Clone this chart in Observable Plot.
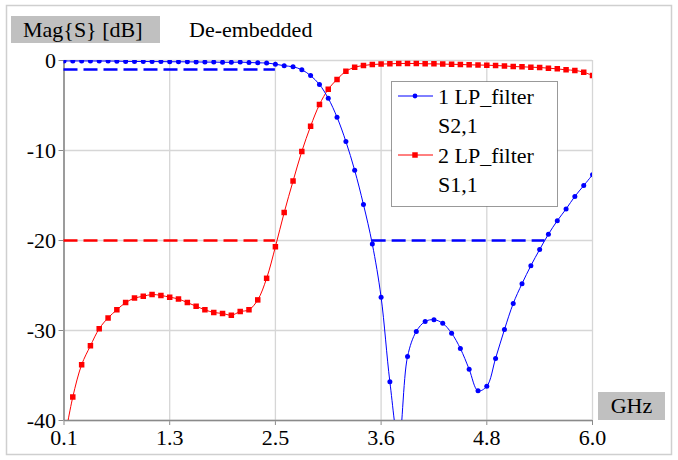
<!DOCTYPE html>
<html>
<head>
<meta charset="utf-8">
<script src="https://cdn.jsdelivr.net/npm/d3@7"></script>
<script src="https://cdn.jsdelivr.net/npm/@observablehq/plot@0.6"></script>
<style>
  html, body { margin: 0; padding: 0; background: white; }
  #wrap { position: relative; width: 678px; height: 460px; overflow: hidden; font-family: "Liberation Serif", "Times New Roman", Times, "DejaVu Serif", serif; }
  #wrap > svg { position: absolute; left: 0; top: 0; }
  #chart svg [aria-label^="x-axis"] line, #chart svg [aria-label^="x-axis"] path,
  #chart svg [aria-label^="y-axis"] line, #chart svg [aria-label^="y-axis"] path { stroke: #8a8a8a; }
  #overlay { pointer-events: none; }
  #wrap svg, #wrap svg text { font-family: "Liberation Serif", "Times New Roman", Times, "DejaVu Serif", serif !important; }
</style>
</head>
<body>
<div id="wrap"><div id="chart"></div></div>
<script>
// ---- data ----
const freqGHz = [0.1, 0.198, 0.297, 0.395, 0.493, 0.592, 0.69, 0.788, 0.887, 0.985,
  1.083, 1.182, 1.28, 1.378, 1.477, 1.575, 1.673, 1.772, 1.87, 1.968,
  2.067, 2.165, 2.263, 2.362, 2.46, 2.558, 2.657, 2.755, 2.853, 2.952,
  3.05, 3.148, 3.247, 3.345, 3.443, 3.542, 3.64, 3.738, 3.837, 3.935,
  4.033, 4.132, 4.23, 4.328, 4.427, 4.525, 4.623, 4.722, 4.82, 4.918,
  5.017, 5.115, 5.213, 5.312, 5.41, 5.508, 5.607, 5.705, 5.803, 5.902, 6.0];

const s21dB = [-0.05, -0.05, -0.05, -0.05, -0.06, -0.06, -0.07, -0.1, -0.11, -0.11,
  -0.12, -0.12, -0.14, -0.14, -0.15, -0.16, -0.18, -0.18, -0.2, -0.2,
  -0.18, -0.22, -0.26, -0.28, -0.41, -0.58, -0.7, -1.03, -1.68, -2.67,
  -4.2, -6.3, -9.0, -12.2, -16.0, -20.4, -26.3, -35.7, -42.5, -32.9,
  -30.1, -29.0, -28.8, -29.2, -30.3, -32.0, -34.3, -36.7, -36.2, -33.1,
  -29.9, -27.0, -24.8, -22.8, -21.0, -19.3, -17.8, -16.5, -15.1, -13.9, -12.7];

const s11dB = [-42.5, -37.4, -33.8, -31.7, -29.8, -28.6, -27.7, -26.9, -26.4, -26.2,
  -26.0, -26.1, -26.3, -26.5, -26.9, -27.3, -27.7, -28.0, -28.1, -28.3,
  -27.9, -27.7, -26.6, -24.2, -20.7, -16.9, -13.4, -10.1, -7.3, -4.9,
  -3.2, -2.1, -1.2, -0.75, -0.56, -0.44, -0.4, -0.37, -0.33, -0.33,
  -0.33, -0.37, -0.37, -0.4, -0.42, -0.44, -0.48, -0.5, -0.52, -0.56,
  -0.6, -0.67, -0.7, -0.74, -0.78, -0.85, -0.93, -1.04, -1.1, -1.3, -1.67];

// spec limit lines (dashed)
const s21Limits = [{x1: 0.1, x2: 2.46, y: -1}, {x1: 3.54, x2: 5.47, y: -20}];
const s11Limits = [{x1: 0.1, x2: 2.46, y: -20}];

const xTicks = [0.1, 1.28, 2.46, 3.64, 4.82, 6.0];
const xTickLabels = ["0.1", "1.3", "2.5", "3.6", "4.8", "6.0"];
const yTicks = [0, -10, -20, -30, -40];
const yTickLabels = ["0", "-10", "-20", "-30", "-40"];

const s21 = freqGHz.map((f, i) => ({f, db: s21dB[i]}));
const s11 = freqGHz.map((f, i) => ({f, db: s11dB[i]}));

const BLUE = "#0000ff", RED = "#ff0000", GRID = "#d6d6d6", AXIS = "#8a8a8a";
const FONT = "'Liberation Serif', 'Times New Roman', Times, 'DejaVu Serif', serif";

const chart = Plot.plot({
  width: 678,
  height: 460,
  marginLeft: 63.5,
  marginRight: 86,
  marginTop: 60,
  marginBottom: 40,
  style: {fontFamily: FONT, fontSize: "22px", color: "black", background: "transparent"},
  x: {domain: [0.1, 6.0], ticks: xTicks, tickFormat: d => xTickLabels[xTicks.indexOf(d)], tickSize: 5, tickPadding: 4, label: null},
  y: {domain: [-40, 0], ticks: yTicks, tickFormat: d => yTickLabels[yTicks.indexOf(d)], tickSize: 5, tickPadding: 3, label: null},
  marks: [
    Plot.ruleX(xTicks, {stroke: GRID, strokeWidth: 1.3}),
    Plot.ruleY(yTicks, {stroke: GRID, strokeWidth: 1.3}),
    Plot.ruleX([0.1], {stroke: AXIS, strokeWidth: 1.6}),
    Plot.ruleY([-40], {stroke: AXIS, strokeWidth: 1.6}),
    Plot.ruleY(s11Limits, {x1: "x1", x2: "x2", y: "y", stroke: RED, strokeWidth: 2.6, strokeDasharray: "14,6"}),
    Plot.ruleY(s21Limits, {x1: "x1", x2: "x2", y: "y", stroke: BLUE, strokeWidth: 2.6, strokeDasharray: "14,6"}),
    Plot.line(s11, {x: "f", y: "db", stroke: RED, strokeWidth: 1, curve: "catmull-rom", clip: true}),
    Plot.line(s21, {x: "f", y: "db", stroke: BLUE, strokeWidth: 1, curve: "catmull-rom", clip: true}),
    Plot.dot(s11, {x: "f", y: "db", symbol: "square", r: 3.1, fill: RED, stroke: "none", clip: true}),
    Plot.dot(s21, {x: "f", y: "db", r: 2.5, fill: BLUE, stroke: "none", clip: true})
  ]
});
document.getElementById("chart").appendChild(chart);

// ---- overlay: titles, unit label, legend, frame ----
const ov = d3.select("#wrap").append("svg")
  .attr("id", "overlay").attr("width", 678).attr("height", 460)
  .attr("font-family", FONT).attr("font-size", 22);

ov.append("rect").attr("x", 6.5).attr("y", 5.5).attr("width", 665).attr("height", 449)
  .attr("fill", "none").attr("stroke", "#cfcfcf").attr("stroke-width", 1.5);

ov.append("rect").attr("x", 11).attr("y", 16).attr("width", 149).attr("height", 27).attr("fill", "#c0c0c0");
ov.append("text").attr("x", 23).attr("y", 37).text("Mag{S} [dB]");
ov.append("text").attr("x", 189).attr("y", 37).text("De-embedded");

ov.append("rect").attr("x", 598).attr("y", 392).attr("width", 67).attr("height", 28).attr("fill", "#c0c0c0");
ov.append("text").attr("x", 631.5).attr("y", 413).attr("text-anchor", "middle").text("GHz");

const lg = ov.append("g");
lg.append("rect").attr("x", 391.5).attr("y", 81.5).attr("width", 166).attr("height", 125)
  .attr("fill", "white").attr("stroke", "#333").attr("stroke-dasharray", "1,1");
const legendItems = [
  {color: BLUE, symbol: d3.symbolCircle, size: 18, y: 96, l1: "1 LP_filter", l2: "S2,1", b1: 104, b2: 133},
  {color: RED, symbol: d3.symbolSquare, size: 30, y: 155, l1: "2 LP_filter", l2: "S1,1", b1: 163, b2: 192}
];
for (const it of legendItems) {
  lg.append("line").attr("x1", 398).attr("x2", 433).attr("y1", it.y).attr("y2", it.y)
    .attr("stroke", it.color).attr("stroke-width", 1);
  lg.append("path").attr("d", d3.symbol(it.symbol, it.size)()).attr("transform", `translate(415,${it.y})`).attr("fill", it.color);
  lg.append("text").attr("x", 438).attr("y", it.b1).text(it.l1);
  lg.append("text").attr("x", 438).attr("y", it.b2).text(it.l2);
}
</script>
</body>
</html>
